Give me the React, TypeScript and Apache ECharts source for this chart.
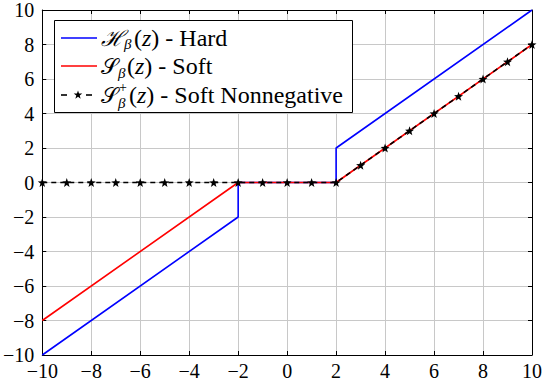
import React, { useEffect, useRef } from "react";
import * as echarts from "echarts";

// ---- data ----
const hardZ = [-10, -2, -2, 2, 2, 10];
const hardY = [-10, -2, 0, 0, 2, 10];
const softZ = [-10, -2, 2, 10];
const softY = [-8, 0, 0, 8];
const nonnegZ = [-10, -9, -8, -7, -6, -5, -4, -3, -2, -1, 0, 1, 2, 3, 4, 5, 6, 7, 8, 9, 10];
const nonnegY = [0, 0, 0, 0, 0, 0, 0, 0, 0, 0, 0, 0, 0, 1, 2, 3, 4, 5, 6, 7, 8];
const axisMin = -10;
const axisMax = 10;
const tickStep = 2;

const FONT = "Liberation Serif";
const MATHFONT = "DejaVu Serif";

function starPoints(cx: number, cy: number, R: number, r: number): number[][] {
  const pts: number[][] = [];
  for (let i = 0; i < 10; i++) {
    const a = -Math.PI / 2 + (i * Math.PI) / 5;
    const rad = i % 2 === 0 ? R : r;
    pts.push([cx + rad * Math.cos(a), cy + rad * Math.sin(a)]);
  }
  return pts;
}
const starSym =
  "path://" +
  starPoints(10, 10, 10, 4)
    .map((p, i) => (i === 0 ? "M" : "L") + p[0].toFixed(2) + " " + p[1].toFixed(2))
    .join(" ") +
  " Z";

const fmt = (v: number) => (v < 0 ? "\u2212" + Math.abs(v) : String(v));

export default function App() {
  const ref = useRef<HTMLDivElement>(null);
  useEffect(() => {
    if (!ref.current) return;
    const chart = echarts.init(ref.current, undefined, { renderer: "svg" });
    const axisCommon = {
      type: "value" as const,
      min: axisMin,
      max: axisMax,
      interval: tickStep,
      axisLine: { show: true, onZero: false, lineStyle: { color: "#000", width: 1 } },
      axisTick: { show: true, inside: true, length: 4, lineStyle: { color: "#000" } },
    };
    const rowY = [38, 66, 95];
    const LF = 24;
    const richRest = {
      n: { fontFamily: FONT, fontSize: LF, fill: "#000" },
      i: { fontFamily: FONT, fontSize: LF, fontStyle: "italic", fill: "#000" },
    };
    const txt = (x: number, y: number, text: string, size: number, family: string, italic = false) => ({
      type: "text",
      z: 101,
      x,
      y,
      style: { text, fontFamily: family, fontSize: size, fontStyle: italic ? "italic" : "normal", verticalAlign: "middle", fill: "#000" },
    });
    const richTxt = (x: number, y: number, text: string) => ({
      type: "text",
      z: 101,
      x,
      y,
      style: { text, rich: richRest, verticalAlign: "middle" },
    });
    chart.setOption({
      animation: false,
      grid: { left: 39, right: 14, top: 10, bottom: 31, containLabel: false },
      xAxis: [
        {
          ...axisCommon,
          position: "bottom",
          axisLabel: { formatter: fmt, fontFamily: FONT, fontSize: 20, color: "#000", margin: 6 },
          splitLine: { show: true, lineStyle: { color: "#c8c8c8", width: 1 } },
        },
        {
          ...axisCommon,
          position: "top",
          axisLabel: { show: false },
          splitLine: { show: false },
        },
      ],
      yAxis: [
        {
          ...axisCommon,
          position: "left",
          axisLabel: { formatter: fmt, fontFamily: FONT, fontSize: 20, color: "#000", margin: 8 },
          splitLine: { show: true, lineStyle: { color: "#c8c8c8", width: 1 } },
        },
        {
          ...axisCommon,
          position: "right",
          axisLabel: { show: false },
          splitLine: { show: false },
        },
      ],
      series: [
        {
          name: "hard",
          type: "line",
          data: hardZ.map((z, k) => [z, hardY[k]]),
          showSymbol: false,
          lineStyle: { color: "#0000ff", width: 1.6 },
          clip: false,
          z: 2,
        },
        {
          name: "soft",
          type: "line",
          data: softZ.map((z, k) => [z, softY[k]]),
          showSymbol: false,
          lineStyle: { color: "#ff0000", width: 1.6 },
          clip: false,
          z: 3,
        },
        {
          name: "nonneg",
          type: "line",
          data: nonnegZ.map((z, k) => [z, nonnegY[k]]),
          symbol: starSym,
          symbolSize: 9,
          itemStyle: { color: "#000" },
          lineStyle: { color: "#000", width: 1.6, type: [5, 4] },
          clip: false,
          z: 4,
        },
      ],
      graphic: [
        {
          type: "rect",
          z: 100,
          shape: { x: 54.5, y: 20.5, width: 298, height: 92 },
          style: { fill: "#fff", stroke: "#000", lineWidth: 1 },
        },
        // row 1
        { type: "line", z: 101, shape: { x1: 61, y1: rowY[0], x2: 97, y2: rowY[0] }, style: { stroke: "#0000ff", lineWidth: 1.6 } },
        txt(101, rowY[0], "\u210B", 22, MATHFONT, true),
        txt(124, rowY[0] + 6, "\u03B2", 15, FONT, true),
        richTxt(134, rowY[0], "{n|(}{i|z}{n|) - Hard}"),
        // row 2
        { type: "line", z: 101, shape: { x1: 61, y1: rowY[1], x2: 97, y2: rowY[1] }, style: { stroke: "#ff0000", lineWidth: 1.6 } },
        txt(101, rowY[1], "\uD835\uDCAE", 22, MATHFONT),
        txt(118, rowY[1] + 7, "\u03B2", 15, FONT, true),
        richTxt(127, rowY[1], "{n|(}{i|z}{n|) - Soft}"),
        // row 3
        { type: "line", z: 101, shape: { x1: 61, y1: rowY[2], x2: 67, y2: rowY[2] }, style: { stroke: "#000", lineWidth: 1.6 } },
        { type: "line", z: 101, shape: { x1: 86, y1: rowY[2], x2: 92, y2: rowY[2] }, style: { stroke: "#000", lineWidth: 1.6 } },
        { type: "polygon", z: 101, shape: { points: starPoints(78, rowY[2], 4.5, 1.8) }, style: { fill: "#000" } },
        txt(101, rowY[2], "\uD835\uDCAE", 22, MATHFONT),
        txt(119, rowY[2] - 8, "+", 14, FONT),
        txt(118, rowY[2] + 8, "\u03B2", 15, FONT, true),
        richTxt(129, rowY[2], "{n|(}{i|z}{n|) - Soft Nonnegative}"),
      ],
    });
    return () => chart.dispose();
  }, []);
  return <div ref={ref} style={{ width: 546, height: 386, position: "absolute", left: 0, top: 0 }} />;
}
